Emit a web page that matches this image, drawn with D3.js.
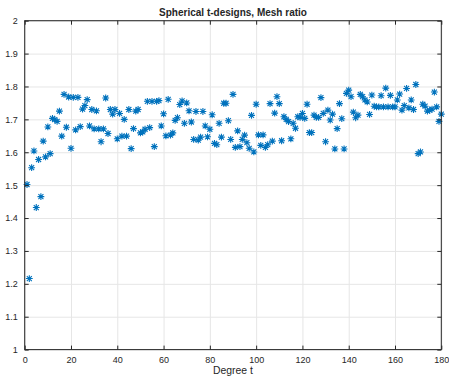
<!DOCTYPE html>
<html>
<head>
<meta charset="utf-8">
<script src="https://cdn.jsdelivr.net/npm/d3@7"></script>
<style>
  html, body { margin: 0; padding: 0; background: #ffffff; }
  svg { display: block; }
  text { font-family: "Liberation Sans", Arial, Helvetica, sans-serif; fill: #262626; }
</style>
</head>
<body>
<svg id="chart" width="449" height="377"></svg>
<script>
// Mesh ratio of spherical t-designs, one value per degree t = 1..180
const degrees = d3.range(1, 181);
const meshRatio = [
  1.502, 1.216, 1.553, 1.604, 1.432, 1.578, 1.465, 1.634, 1.586, 1.677,
  1.596, 1.703, 1.699, 1.694, 1.725, 1.649, 1.776, 1.676, 1.768, 1.612,
  1.767, 1.668, 1.767, 1.678, 1.731, 1.742, 1.760, 1.680, 1.730, 1.671,
  1.726, 1.671, 1.632, 1.671, 1.765, 1.657, 1.730, 1.716, 1.730, 1.641,
  1.718, 1.649, 1.700, 1.649, 1.730, 1.611, 1.672, 1.725, 1.730, 1.659,
  1.662, 1.670, 1.755, 1.675, 1.755, 1.617, 1.755, 1.757, 1.680, 1.717,
  1.650, 1.761, 1.652, 1.659, 1.697, 1.705, 1.745, 1.756, 1.688, 1.750,
  1.726, 1.692, 1.639, 1.724, 1.637, 1.646, 1.724, 1.680, 1.647, 1.670,
  1.714, 1.627, 1.623, 1.688, 1.646, 1.749, 1.749, 1.696, 1.639, 1.776,
  1.615, 1.665, 1.617, 1.639, 1.652, 1.629, 1.612, 1.712, 1.601, 1.746,
  1.653, 1.621, 1.653, 1.615, 1.623, 1.748, 1.634, 1.719, 1.769, 1.748,
  1.635, 1.708, 1.700, 1.693, 1.641, 1.688, 1.673, 1.708, 1.706, 1.718,
  1.703, 1.746, 1.660, 1.660, 1.713, 1.706, 1.706, 1.766, 1.718, 1.632,
  1.728, 1.698, 1.716, 1.610, 1.672, 1.748, 1.702, 1.610, 1.779, 1.789,
  1.769, 1.722, 1.705, 1.713, 1.776, 1.769, 1.759, 1.753, 1.715, 1.774,
  1.740, 1.738, 1.738, 1.772, 1.738, 1.795, 1.738, 1.773, 1.738, 1.738,
  1.759, 1.777, 1.728, 1.742, 1.794, 1.735, 1.759, 1.730, 1.806, 1.596,
  1.601, 1.746, 1.740, 1.725, 1.728, 1.731, 1.783, 1.738, 1.694, 1.716
];
const xTicks = [0, 20, 40, 60, 80, 100, 120, 140, 160, 180];
const yTicks = [1, 1.1, 1.2, 1.3, 1.4, 1.5, 1.6, 1.7, 1.8, 1.9, 2];
const yTickLabels = ["1", "1.1", "1.2", "1.3", "1.4", "1.5", "1.6", "1.7", "1.8", "1.9", "2"];
const titleText = "Spherical t-designs, Mesh ratio";
const xLabelText = "Degree t";

const svg = d3.select("#chart");
const plotLeft = 24.7, plotRight = 441.3, plotTop = 20.7, plotBottom = 349.6;

const x = d3.scaleLinear().domain([0, 180]).range([plotLeft, plotRight]);
const y = d3.scaleLinear().domain([1, 2]).range([plotBottom, plotTop]);

// grid lines
const grid = svg.append("g").attr("class", "grid");
grid.append("g")
  .attr("transform", `translate(0,${plotBottom})`)
  .call(d3.axisBottom(x).tickValues(xTicks).tickSize(-(plotBottom - plotTop)).tickFormat(""))
  .call(g => g.select(".domain").remove());
grid.append("g")
  .attr("transform", `translate(${plotLeft},0)`)
  .call(d3.axisLeft(y).tickValues(yTicks).tickSize(-(plotRight - plotLeft)).tickFormat(""))
  .call(g => g.select(".domain").remove());
grid.selectAll("line").attr("stroke", "#e6e6e6").attr("stroke-width", 1);

// data markers (asterisks)
const r = 3.4, d = 2.5;
const star = `M${-r},0L${r},0M0,${-r}L0,${r}M${-d},${-d}L${d},${d}M${-d},${d}L${d},${-d}`;
svg.append("g")
  .selectAll("path")
  .data(degrees.map((t, i) => [t, meshRatio[i]]))
  .join("path")
  .attr("transform", p => `translate(${x(p[0])},${y(p[1])})`)
  .attr("d", star)
  .attr("fill", "none")
  .attr("stroke", "#0072BD")
  .attr("stroke-width", 1.1);

// axes with inward ticks on all four sides
const tickLen = 4;
function styleAxis(g) {
  g.select(".domain").remove();
  g.selectAll(".tick line").attr("stroke", "#262626").attr("stroke-width", 1);
  g.selectAll("text").attr("font-size", "9px").attr("fill", "#262626")
    .attr("font-family", '"Liberation Sans", Arial, Helvetica, sans-serif');
}
svg.append("g")
  .attr("transform", `translate(0,${plotBottom})`)
  .call(d3.axisBottom(x).tickValues(xTicks).tickSizeInner(-tickLen).tickSizeOuter(0).tickPadding(7).tickFormat(d3.format("d")))
  .call(styleAxis);
svg.append("g")
  .attr("transform", `translate(${plotLeft},0)`)
  .call(d3.axisLeft(y).tickValues(yTicks).tickSizeInner(-tickLen).tickSizeOuter(0).tickPadding(7)
    .tickFormat((v, i) => yTickLabels[i]))
  .call(styleAxis);
svg.append("g")
  .attr("transform", `translate(0,${plotTop})`)
  .call(d3.axisTop(x).tickValues(xTicks).tickSizeInner(-tickLen).tickSizeOuter(0).tickFormat(""))
  .call(styleAxis);
svg.append("g")
  .attr("transform", `translate(${plotRight},0)`)
  .call(d3.axisRight(y).tickValues(yTicks).tickSizeInner(-tickLen).tickSizeOuter(0).tickFormat(""))
  .call(styleAxis);

// axes box
svg.append("rect")
  .attr("x", plotLeft).attr("y", plotTop)
  .attr("width", plotRight - plotLeft).attr("height", plotBottom - plotTop)
  .attr("fill", "none").attr("stroke", "#262626").attr("stroke-width", 1);

// title and axis label
svg.append("text")
  .attr("x", (plotLeft + plotRight) / 2).attr("y", 15.5)
  .attr("text-anchor", "middle")
  .attr("font-size", "10px").attr("font-weight", "bold")
  .attr("fill", "#000")
  .text(titleText);
svg.append("text")
  .attr("x", (plotLeft + plotRight) / 2).attr("y", 374)
  .attr("text-anchor", "middle")
  .attr("font-size", "10.4px")
  .text(xLabelText);
</script>
</body>
</html>
